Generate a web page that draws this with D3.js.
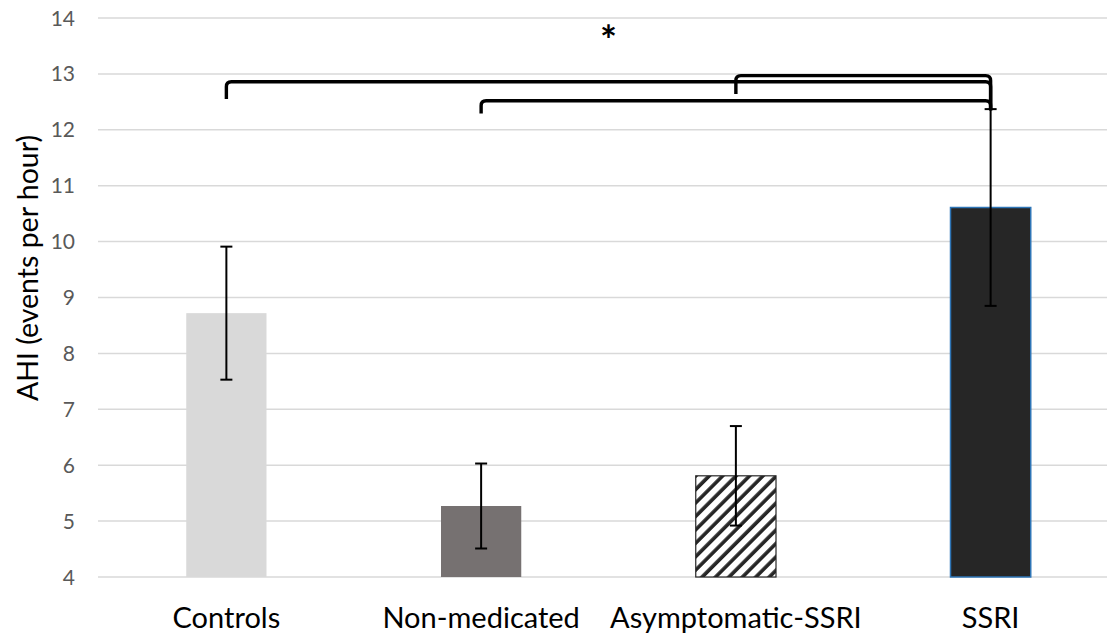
<!DOCTYPE html>
<html>
<head>
<meta charset="utf-8">
<script src="https://cdn.jsdelivr.net/npm/d3@7"></script>
<style>
body { margin: 0; background: #fff; }
svg { display: block; font-family: Lato, "Noto Sans", sans-serif; }
</style>
</head>
<body>
<div id="chart"></div>
<script>
// values
var groups = ["Controls", "Non-medicated", "Asymptomatic-SSRI", "SSRI"];
var means = [8.72, 5.27, 5.81, 10.61];
var errs = [1.19, 0.76, 0.89, 1.76];
var yTicks = [4, 5, 6, 7, 8, 9, 10, 11, 12, 13, 14];

// significance brackets (levels in AHI units)
var pairFrom = ["Asymptomatic-SSRI", "Controls", "Non-medicated"];
var pairTo = ["SSRI", "SSRI", "SSRI"];
var pairLevel = [12.97, 12.86, 12.52];
var pairDrop = [12.64, 12.55, 12.29];
var rightDrop = 12.35;
var starLabel = "*";
var starLevel = 13.88;

var width = 1107, height = 638;

var svg = d3.select("#chart").append("svg")
  .attr("width", width)
  .attr("height", height);

var x = d3.scaleBand().domain(groups).range([99, 1118]).padding(0);
var y = d3.scaleLinear().domain([4, 14]).range([577, 18]);
var barW = x.bandwidth() * 0.315;
var cx = function(g) { return x(g) + x.bandwidth() / 2; };

// hatch pattern
var defs = svg.append("defs");
var pat = defs.append("pattern")
  .attr("id", "hatch")
  .attr("patternUnits", "userSpaceOnUse")
  .attr("width", 9.5)
  .attr("height", 9.5)
  .attr("patternTransform", "rotate(45)");
pat.append("rect").attr("width", 9.5).attr("height", 9.5).attr("fill", "#fff");
pat.append("line")
  .attr("x1", 2).attr("y1", 0).attr("x2", 2).attr("y2", 9.5)
  .attr("stroke", "#262626").attr("stroke-width", 3.6);

// grid
svg.append("g").selectAll("line")
  .data(yTicks)
  .enter().append("line")
  .attr("x1", 98).attr("x2", width)
  .attr("y1", d => y(d)).attr("y2", d => y(d))
  .attr("stroke", "#d9d9d9")
  .attr("stroke-width", 1.5);

// y tick labels
svg.append("g").selectAll("text")
  .data(yTicks)
  .enter().append("text")
  .attr("x", 75)
  .attr("y", d => y(d))
  .attr("dy", "0.36em")
  .attr("text-anchor", "end")
  .style("font-size", "21px")
  .style("fill", "#595959")
  .text(d => d);

// bars
var fills = ["#d9d9d9", "#767171", "url(#hatch)", "#262626"];
var strokes = ["none", "none", "#262626", "#2e75b6"];
svg.append("g").selectAll("rect")
  .data(groups)
  .enter().append("rect")
  .attr("x", d => cx(d) - barW / 2)
  .attr("y", (d, i) => y(means[i]))
  .attr("width", barW)
  .attr("height", (d, i) => y(4) - y(means[i]))
  .attr("fill", (d, i) => fills[i])
  .attr("stroke", (d, i) => strokes[i])
  .attr("stroke-width", (d, i) => i == 3 ? 1.5 : 1.2);

// error bars
var eb = svg.append("g").attr("stroke", "#000").attr("stroke-width", 2);
groups.forEach(function(g, i) {
  var hi = y(means[i] + errs[i]), lo = y(means[i] - errs[i]);
  eb.append("line").attr("x1", cx(g)).attr("x2", cx(g)).attr("y1", hi).attr("y2", lo);
  eb.append("line").attr("x1", cx(g) - 6).attr("x2", cx(g) + 6).attr("y1", hi).attr("y2", hi);
  eb.append("line").attr("x1", cx(g) - 6).attr("x2", cx(g) + 6).attr("y1", lo).attr("y2", lo);
});

// brackets
var r = 5;
svg.append("g").selectAll("path")
  .data(pairFrom)
  .enter().append("path")
  .attr("d", function(d, i) {
    var x1 = cx(d), x2 = cx(pairTo[i]), yl = y(pairLevel[i]);
    return "M" + x1 + "," + y(pairDrop[i]) +
      "L" + x1 + "," + (yl + r) +
      "Q" + x1 + "," + yl + " " + (x1 + r) + "," + yl +
      "L" + (x2 - r) + "," + yl +
      "Q" + x2 + "," + yl + " " + x2 + "," + (yl + r) +
      "L" + x2 + "," + y(rightDrop);
  })
  .attr("fill", "none")
  .attr("stroke", "#000")
  .attr("stroke-width", 3.4);

svg.append("text")
  .attr("x", (cx(groups[0]) + cx(groups[3])) / 2)
  .attr("y", y(starLevel))
  .attr("dy", "0.75em")
  .attr("text-anchor", "middle")
  .style("font-size", "40px")
  .style("font-weight", "bold")
  .text(starLabel);

// category labels
svg.append("g").selectAll("text")
  .data(groups)
  .enter().append("text")
  .attr("x", d => cx(d))
  .attr("y", 628)
  .attr("text-anchor", "middle")
  .style("font-size", "29px")
  .style("fill", "#000")
  .text(d => d);

// y axis title
svg.append("text")
  .attr("transform", "translate(38,268) rotate(-90)")
  .attr("text-anchor", "middle")
  .style("font-size", "28.5px")
  .style("fill", "#000")
  .text("AHI (events per hour)");
</script>
</body>
</html>
